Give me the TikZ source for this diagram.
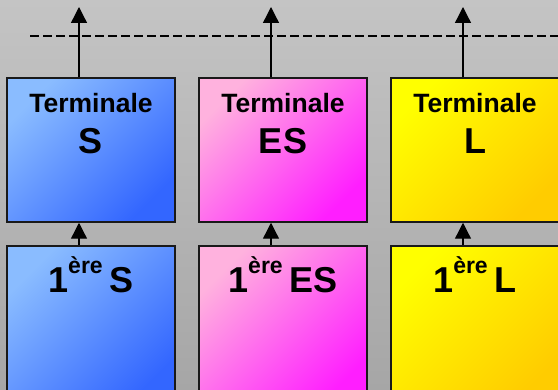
\documentclass[tikz,border=0pt]{standalone}
\usepackage{fontspec}
\setmainfont{Liberation Sans}
\usepackage{xcolor}
\usepackage{tikz}
\usetikzlibrary{positioning,arrows.meta}

\definecolor{bgtop}{RGB}{196,196,196}
\definecolor{bgbot}{RGB}{166,166,166}
\definecolor{blueA}{RGB}{138,188,255}
\definecolor{blueB}{RGB}{51,102,255}
\definecolor{pinkA}{RGB}{255,178,222}
\definecolor{pinkB}{RGB}{255,30,255}
\definecolor{yelA}{RGB}{255,255,0}
\definecolor{yelB}{RGB}{255,204,0}

\tikzset{
  classbox/.style={draw=black!90, line width=1.5pt, minimum width=168pt, inner sep=0pt},
  upperbox/.style={classbox, minimum height=144pt},
  lowerbox/.style={classbox, minimum height=160pt},
  sci/.style={top color=blueA, bottom color=blueB, shading angle=45},
  eco/.style={top color=pinkA, bottom color=pinkB, shading angle=45},
  lit/.style={top color=yelA, bottom color=yelB, shading angle=45},
  titletext/.style={anchor=base, font=\bfseries\fontsize{26.5}{29}\selectfont},
  classname/.style={anchor=base, font=\bfseries\fontsize{36}{40}\selectfont},
  passarrow/.style={line width=1.3pt, -{Triangle[length=16pt,width=16pt]}}
}
\newcommand{\premiere}[1]{1\raisebox{19pt}{\fontsize{23}{25}\selectfont ère}\hspace{7pt}#1}

\begin{document}
\begin{tikzpicture}[x=1pt, y=-1pt]
    \useasboundingbox (0,0) rectangle (558,390);
    \clip (0,0) rectangle (558,390);
    \shade[top color=bgtop, bottom color=bgbot] (0,0) rectangle (558,390);
    \draw[line width=1.3pt, dash pattern=on 9pt off 4pt] (30,36) -- (558,36);
    % Terminale
    \node[upperbox, sci] (ts) at (91,150) {};
    \node[upperbox, eco] (tes) at (283,150) {};
    \node[upperbox, lit] (tl) at (475,150) {};
    \node[titletext] (ts-t) at ([yshift=-35pt]ts.north) {Terminale};
    \node[titletext] (tes-t) at ([yshift=-35pt]tes.north) {Terminale};
    \node[titletext] (tl-t) at ([yshift=-35pt]tl.north) {Terminale};
    \node[classname] (ts-n) at ([yshift=-76pt]ts.north) {S};
    \node[classname] (tes-n) at ([yshift=-76pt]tes.north) {ES};
    \node[classname] (tl-n) at ([yshift=-76pt]tl.north) {L};
    % Premiere
    \node[lowerbox, sci] (ps) at (91,326) {};
    \node[lowerbox, eco] (pes) at (283,326) {};
    \node[lowerbox, lit] (pl) at (475,326) {};
    \node[classname] (ps-n) at ([yshift=-47pt]ps.north) {\premiere{S}};
    \node[classname] (pes-n) at ([yshift=-47pt]pes.north) {\premiere{ES}};
    \node[classname] (pl-n) at ([yshift=-47pt]pl.north) {\premiere{L}};
    % passages
    \coordinate (ts-up) at (79,7);
    \coordinate (tes-up) at (271,7);
    \coordinate (tl-up) at (463,7);
    \draw[passarrow] ([xshift=-12pt]ts.north) -- (ts-up);
    \draw[passarrow] ([xshift=-12pt]tes.north) -- (tes-up);
    \draw[passarrow] ([xshift=-12pt]tl.north) -- (tl-up);
    \draw[passarrow] ([xshift=-12pt]ps.north) -- ([xshift=-12pt]ts.south);
    \draw[passarrow] ([xshift=-12pt]pes.north) -- ([xshift=-12pt]tes.south);
    \draw[passarrow] ([xshift=-12pt]pl.north) -- ([xshift=-12pt]tl.south);
\end{tikzpicture}
\end{document}
